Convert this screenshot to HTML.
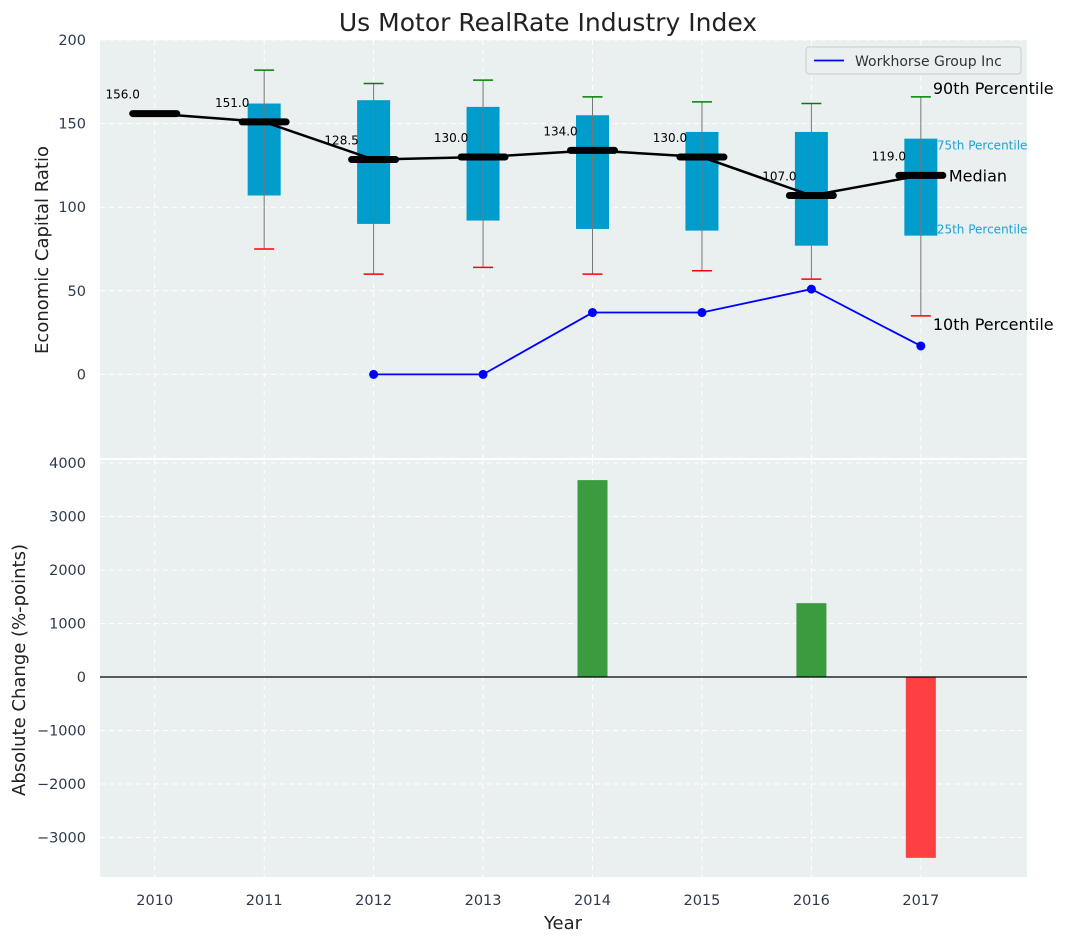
<!DOCTYPE html>
<html><head><meta charset="utf-8"><style>
body{margin:0;background:#fff;font-family:"DejaVu Sans","Liberation Sans",sans-serif}
svg text{font-family:"DejaVu Sans","Liberation Sans",sans-serif}
</style></head><body>
<svg id="c" width="1067" height="942" xmlns="http://www.w3.org/2000/svg"></svg>
<script>
const years=[2010,2011,2012,2013,2014,2015,2016,2017];
const medians=[156,151,128.5,130,134,130,107,119];
const boxYears=[2011,2012,2013,2014,2015,2016,2017];
const q1=[107,90,92,87,86,77,83];
const q3=[162,164,160,155,145,145,141];
const p10=[75,60,64,60,62,57,35];
const p90=[182,174,176,166,163,162,166];
const coYears=[2012,2013,2014,2015,2016,2017];
const coValues=[0,0,37,37,51,17];
const chgYears=[2014,2016,2017];
const chgValues=[3680,1380,-3380];
const topTicks=[0,50,100,150,200];
const botTicks=[-3000,-2000,-1000,0,1000,2000,3000,4000];

const svg=document.getElementById('c');const NS='http://www.w3.org/2000/svg';
function el(t,a,txt,name,parent){const e=document.createElementNS(NS,t);for(const k in a)e.setAttribute(k,a[k]);if(txt!==undefined&&txt!==null)e.textContent=txt;


(parent||svg).appendChild(e);return e;}
const L=100,R=1027,T1=40,B1=458,T2=460,B2=877;
const x=v=>L+(v-2009.5)/(2017.97-2009.5)*(R-L);
const y1=v=>T1+(200-v)/250*(B1-T1);
const y2=v=>T2+(4056-v)/(4056+3738)*(B2-T2);
el('rect',{x:L,y:T1,width:R-L,height:B1-T1,fill:'#eaeff0'},null,'top-plot-area');
el('rect',{x:L,y:T2,width:R-L,height:B2-T2,fill:'#eaeff0'},null,'bottom-plot-area');
years.forEach(v=>{[[T1,B1],[T2,B2]].forEach(([a,b])=>el('line',{x1:x(v),x2:x(v),y1:a,y2:b,stroke:'#fff','stroke-dasharray':'5,4','stroke-width':1},null,'x-grid-line'));});
topTicks.forEach(v=>{el('line',{x1:L,x2:R,y1:y1(v),y2:y1(v),stroke:'#fff','stroke-dasharray':'5,4'},null,'y-grid-line');
el('text',{x:L-14,y:y1(v)+5,'text-anchor':'end','font-size':14.5,fill:'#2e3a4c'},v,'y-tick-label');});
botTicks.forEach(v=>{el('line',{x1:L,x2:R,y1:y2(v),y2:y2(v),stroke:'#fff','stroke-dasharray':'5,4'},null,'y-grid-line');
el('text',{x:L-14,y:y2(v)+5,'text-anchor':'end','font-size':14.5,fill:'#2e3a4c'},(v<0?'\u2212'+(-v):v),'y-tick-label');});
years.forEach(v=>el('text',{x:x(v),y:B2+28,'text-anchor':'middle','font-size':14.5,fill:'#2e3a4c'},v,'x-tick-label'));
boxYears.forEach((yr,i)=>{const cx=x(yr);
el('rect',{x:cx-16.5,y:y1(q3[i]),width:33,height:y1(q1[i])-y1(q3[i]),fill:'#009ccc'},null,'box-'+yr);
el('line',{x1:cx,x2:cx,y1:y1(p90[i]),y2:y1(p10[i]),stroke:'#777','stroke-width':1},null,'whisker-'+yr);
el('line',{x1:cx-10,x2:cx+10,y1:y1(p90[i]),y2:y1(p90[i]),stroke:'green','stroke-width':1.5},null,'p90-cap');
el('line',{x1:cx-10,x2:cx+10,y1:y1(p10[i]),y2:y1(p10[i]),stroke:'red','stroke-width':1.5},null,'p10-cap');});
el('polyline',{points:years.map((v,i)=>x(v)+','+y1(medians[i])).join(' '),fill:'none',stroke:'#000','stroke-width':2.5},null,'median-line');
years.forEach((v,i)=>{el('line',{x1:x(v)-22,x2:x(v)+22,y1:y1(medians[i]),y2:y1(medians[i]),stroke:'#000','stroke-width':7,'stroke-linecap':'round'},null,'median-marker');
el('text',{x:x(v)-32,y:y1(medians[i])-15,'text-anchor':'middle','font-size':12,fill:'#000'},medians[i].toFixed(1),'median-label');});
el('polyline',{points:coYears.map((v,i)=>x(v)+','+y1(coValues[i])).join(' '),fill:'none',stroke:'blue','stroke-width':1.8},null,'workhorse-line');
coYears.forEach((v,i)=>el('circle',{cx:x(v),cy:y1(coValues[i]),r:4.5,fill:'blue'},null,'workhorse-point'));
const lx=x(2017);
el('text',{x:lx+12,y:y1(166)-3,'font-size':16,fill:'#000'},'90th Percentile','annot-90');
el('text',{x:lx+16,y:y1(141)+11,'font-size':12,fill:'#1aa3d6'},'75th Percentile','annot-75');
el('text',{x:lx+28,y:y1(119)+6,'font-size':16,fill:'#000'},'Median','annot-median');
el('text',{x:lx+16,y:y1(83)-2,'font-size':12,fill:'#1aa3d6'},'25th Percentile','annot-25');
el('text',{x:lx+12,y:y1(35)+14,'font-size':16,fill:'#000'},'10th Percentile','annot-10');
el('rect',{x:806,y:47,width:215,height:27,rx:3,fill:'#eaeff0',stroke:'#ccc'},null,'legend');
el('line',{x1:814,x2:844,y1:60.5,y2:60.5,stroke:'blue','stroke-width':1.8},null,'legend-swatch');
el('text',{x:855,y:66,'font-size':14,fill:'#333'},'Workhorse Group Inc','legend-entry');
chgYears.forEach((v,i)=>{const a=y2(chgValues[i]),b=y2(0);
el('rect',{x:x(v)-15,y:Math.min(a,b),width:30,height:Math.abs(b-a),fill:chgValues[i]>=0?'#3a9c3e':'#ff4040'},null,'bar-'+v);});
el('line',{x1:L,x2:R,y1:y2(0),y2:y2(0),stroke:'#000','stroke-width':1.2},null,'zero-line');
el('text',{x:548,y:31,'text-anchor':'middle','font-size':25,fill:'#222'},'Us Motor RealRate Industry Index','chart-title');
el('text',{x:563,y:929,'text-anchor':'middle','font-size':18,fill:'#222'},'Year','x-axis-title');
el('text',{x:0,y:0,'text-anchor':'middle','font-size':18,fill:'#222',transform:'translate(48,250) rotate(-90)'},'Economic Capital Ratio','top-y-axis-title');
el('text',{x:0,y:0,'text-anchor':'middle','font-size':18,fill:'#222',transform:'translate(25,670) rotate(-90)'},'Absolute Change (%-points)','bottom-y-axis-title');
</script></body></html>
